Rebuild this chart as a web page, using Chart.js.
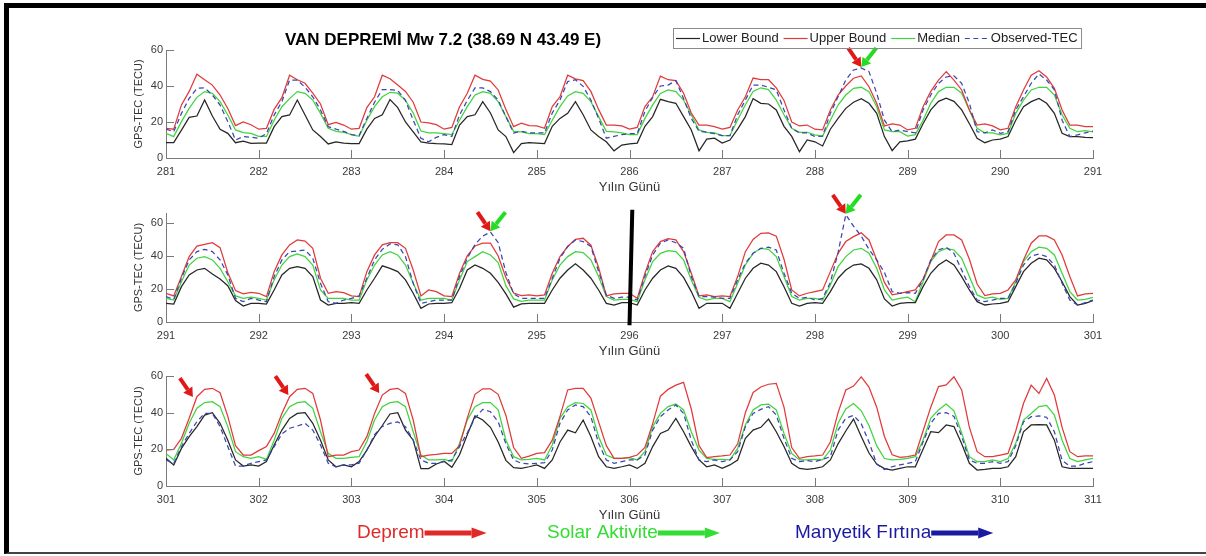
<!DOCTYPE html>
<html>
<head>
<meta charset="utf-8">
<script src="https://cdn.jsdelivr.net/npm/chart.js@4.4.1/dist/chart.umd.min.js"></script>
<style>
  html, body { margin: 0; padding: 0; background: #fff; }
  #page { position: relative; width: 1206px; height: 556px; overflow: hidden; }
  #frame { position: absolute; left: 4px; top: 3px; width: 1202px; height: 551px; box-sizing: border-box;
           border-top: 5px solid #000; border-left: 5px solid #000; border-bottom: 2px solid #444; }
  canvas { position: absolute; left: 0; }
</style>
</head>
<body>
<div id="page">
  <div id="frame"></div>
  <canvas id="tecA" width="1206" height="195" style="top:0px"></canvas>
  <canvas id="tecB" width="1206" height="169" style="top:190px"></canvas>
  <canvas id="tecC" width="1206" height="201" style="top:355px"></canvas>
</div>
<script>
// GPS-TEC around the Van earthquake, one sample every 2 hours (12 per day)
var startDays = [281, 291, 301];
var yMaxes = [60, 66, 60];

// days 281 - 291
var lowerA = [
  8.5, 8.5, 15.5, 22.6, 23.3, 32.2, 23.3, 16, 13.7, 8.5, 9.4, 8.1,
  8.3, 8.3, 17.4, 23, 23.9, 32.2, 23.9, 15.6, 11.9, 7.8, 9, 8.3,
  8, 8, 16, 22, 24, 32.5, 28, 20, 14.5, 9, 8.3, 8,
  7.8, 7.5, 18.3, 23, 24, 31.3, 25, 15.6, 11.9, 3, 8, 8.5,
  8.3, 8, 17.6, 22, 24.8, 31.3, 24, 15.6, 12, 9, 4, 7.2,
  7.8, 8.3, 17.6, 23, 32.6, 31.3, 30.4, 23, 15.6, 4, 10.5, 11,
  8.3, 10, 16, 23, 33, 30.4, 30, 26.7, 17.6, 12, 3.5, 10,
  9, 6.7, 16, 22, 27.6, 31, 33, 30.4, 24.8, 11.9, 4.1, 9,
  9.5, 10.5, 19, 26.7, 31.5, 33.3, 31.5, 26.7, 19, 10.9, 8.5, 10,
  10.5, 11.9, 21, 28.5, 31.3, 33.1, 30.4, 24.8, 13.7, 11.9, 11.9, 11.5,
  11.3
];
var upperA = [
  16.5, 16, 29.5, 37, 46.5, 43.5, 40.5, 35, 27.5, 18, 20, 18.5,
  16, 16.5, 27, 33.5, 46, 43.5, 41.5, 36, 30, 18.5, 19.8, 18.3,
  16, 16.5, 28, 34, 46, 44, 40.5, 37, 31, 20, 19.5, 18.5,
  16, 17, 28.5, 36, 46, 43.7, 42.7, 37.8, 27, 17.4, 19.4, 18,
  17.8, 16.5, 28.6, 34, 46, 44, 43, 37, 27, 18.3, 18.3, 17.8,
  16, 17, 28.6, 34, 45.5, 43.5, 43, 36, 25, 18.3, 18.3, 17.4,
  16, 17, 26.7, 34, 44.4, 43.5, 43.5, 39, 32, 20, 17.8, 18.3,
  16, 15.6, 26.7, 35, 40, 44.3, 45.6, 39.6, 30.4, 17.8, 18.9, 18.3,
  15.6, 16.5, 28.5, 37, 43.3, 48, 43.3, 37.8, 26.7, 18.3, 18.9, 17.8,
  15.6, 16.5, 28.5, 37.8, 46, 48.5, 45, 38.7, 26.7, 18.3, 18.3, 17.4,
  17.4
];
var medianA = [
  13.7, 11.9, 20.2, 27.6, 33.7, 36.9, 35.9, 31.3, 23.9, 15.6, 14.1, 13.7,
  12, 12, 21, 28.5, 33, 36.9, 35.9, 32.2, 24.8, 16.5, 14.8, 14.3,
  13, 12, 21, 28.5, 34, 36.5, 36, 32, 25, 15, 14, 14,
  13.5, 13, 21, 28.5, 35, 36.9, 35.9, 31.3, 23, 14.8, 14.5, 13.5,
  13.5, 13, 21, 28.5, 34.5, 36.9, 35.9, 31.3, 23, 14.8, 14.5, 14,
  13, 13, 22, 29.5, 35.9, 37.8, 36.9, 32.2, 23.9, 15.6, 14.2, 14,
  12.4, 12.4, 21.3, 29.6, 37, 39, 38, 32.2, 24, 16.5, 14.3, 14.3,
  12.8, 12.2, 21, 29.4, 35, 38.7, 39.3, 36.9, 28.5, 15.6, 14.6, 14.6,
  12.2, 13, 21, 30.4, 36.9, 39.3, 39.3, 36, 26.7, 16.5, 14, 14,
  12.8, 13.7, 24.8, 32.2, 37.8, 39.3, 39.3, 35, 24, 16.5, 14.6, 15.2,
  14.5
];
var observedA = [
  16, 14.6, 24.8, 33.1, 38.7, 39, 35, 29.4, 20.2, 10, 11.9, 11.5,
  11, 13.5, 23.9, 31.3, 43.3, 43.3, 39.3, 34, 26.7, 17.4, 16, 14.8,
  13, 12.5, 22, 31, 38, 38, 37.5, 32, 21, 11, 9, 11.5,
  13, 12, 23.9, 32, 38.9, 38.9, 36.9, 32.2, 23, 13.9, 14.8, 13.9,
  13.9, 13.9, 25, 32.2, 42.5, 43.5, 39.8, 32.2, 22, 11, 12, 13,
  13.5, 13.5, 26, 33.7, 40, 40.5, 43, 33, 22, 14.8, 14.3, 13.5,
  12.4, 12.4, 24, 32.2, 40.5, 40.5, 39.3, 37.8, 26.7, 16.5, 13.9, 13.9,
  11.9, 12.2, 24.8, 34, 43.3, 48.9, 50, 48, 36, 21, 14.6, 15.6,
  14.6, 14, 26.7, 35, 41.5, 45, 45.6, 41.5, 30.4, 14.6, 14, 15.6,
  13.7, 14.6, 26.7, 34, 41.5, 46.7, 43.3, 37.8, 21, 11.9, 12.8, 14,
  15
];

// days 291 - 301
var lowerB = [
  11.3, 10.9, 21.4, 28.5, 31.5, 32.5, 29, 26, 22, 13, 9.7, 11.3,
  11.3, 10.9, 19.4, 28.5, 32.5, 33.5, 32.5, 27.5, 13.3, 10.3, 11.3, 11.3,
  11.7, 11.3, 19.4, 26.5, 34, 32.5, 30.5, 25.5, 17.4, 8.3, 10.9, 11.3,
  11.3, 11.7, 20.4, 31.5, 34.5, 32.5, 29.5, 24, 17, 9, 11, 11.3,
  11.3, 11.3, 19.4, 26.5, 31.5, 35.2, 31.5, 26.5, 19.4, 11.3, 10.3, 11.7,
  11.7, 10.3, 19.4, 26.5, 31.5, 34, 32.5, 27, 18.4, 8.3, 11.3, 11.3,
  11.3, 8.3, 17.4, 26.5, 32.5, 35.6, 34.5, 30.5, 21.4, 11.3, 9.7, 11.3,
  11.7, 11.3, 18.4, 26.5, 31.5, 34.5, 35.2, 32.5, 25.5, 14, 9.7, 11.3,
  11.7, 11.7, 21.4, 29.5, 34.5, 37.6, 34.5, 27.5, 19.4, 12.3, 10.3, 10.9,
  11.3, 12.3, 21.4, 30.5, 35.6, 38.6, 37.6, 32.5, 24.4, 15.4, 10.3, 11.3,
  12.9
];
var upperB = [
  17.4, 15.8, 27.5, 39.6, 46, 47, 48, 45, 30, 19, 17, 18,
  17.4, 15.4, 30.5, 40.6, 46.7, 49.7, 49, 44.6, 26.5, 17.4, 18.4, 17.8,
  15.8, 15.4, 30.5, 40.6, 46.7, 48, 48, 44.6, 31.5, 15.8, 19.4, 18.4,
  15.8, 15.4, 29.5, 40, 46, 47.7, 47.7, 40, 27, 17.5, 16, 16.4,
  15.8, 16.4, 29.5, 39.6, 45.7, 50, 50.7, 46.5, 33, 15.8, 17, 17.4,
  17.4, 14.3, 29.5, 42.6, 48.7, 50.5, 49.7, 42.6, 29.5, 15.8, 16.4, 15.4,
  15.8, 15.4, 27.5, 42.6, 50, 53.7, 54, 52, 38, 19.4, 15.8, 17.4,
  18.4, 19.4, 30.5, 41.6, 48.7, 51.7, 54, 49.7, 37.6, 24, 16.5, 17.4,
  18.4, 19.4, 26, 37, 48.7, 52.7, 52.7, 49.7, 38, 23, 16, 17,
  17.4, 19.4, 25.5, 37.6, 47.7, 52.1, 52.1, 49.7, 40.6, 27.5, 15.8, 17,
  17.4
];
var medianB = [
  14.3, 13.3, 24.4, 34.5, 38.6, 39.6, 37.6, 32.5, 24.4, 15.8, 14.3, 15,
  14.3, 13.3, 25.5, 34.5, 39.6, 41.2, 39.6, 34.5, 19.4, 14.3, 14.3, 14.3,
  13.3, 13.3, 25.5, 34.5, 40.6, 42.6, 40.6, 34.5, 23.4, 13.3, 14.3, 14.3,
  14.3, 13.3, 25.5, 36.6, 39.6, 42.6, 40.6, 36, 22, 14, 12.5, 13.3,
  13.3, 13.3, 25.5, 34.5, 39.6, 42.6, 42, 37.6, 27.5, 15.4, 13.3, 13.7,
  13.7, 12.3, 25.5, 36.6, 41.6, 43.2, 42.6, 37.6, 25.5, 15, 13.3, 14.3,
  14.3, 12.3, 23.4, 34.5, 41.6, 44.6, 44, 39.6, 27.5, 15.4, 13.3, 14.3,
  14.3, 13.3, 22.4, 33.5, 39.6, 43.6, 44.6, 41.6, 32.5, 19.4, 13.3, 14.3,
  15, 12.3, 24.4, 36.6, 42.6, 44.6, 43.6, 38.6, 27.5, 16.4, 14.3, 15,
  13.7, 14.3, 24.4, 36.6, 42.6, 45.3, 44.6, 40.6, 29.5, 18.4, 13.3, 13.7,
  15
];
var observedB = [
  15.4, 13.7, 26.5, 37.6, 42.6, 44, 42.6, 37.6, 28.5, 14.3, 12.3, 14.3,
  13.3, 12.3, 27.5, 37.6, 42.6, 43, 43.6, 38.6, 23.4, 12.3, 11.3, 13.3,
  14.3, 15.8, 26.5, 37.6, 44, 47.3, 46.7, 39.6, 23.4, 11.3, 12.3, 13.3,
  13.3, 13.3, 27.5, 38.6, 47, 52, 54.5, 48, 30, 17, 14.3, 14.3,
  14.3, 14.3, 26.5, 38.6, 45.7, 49.7, 48.7, 45.7, 30.5, 16.4, 14.3, 15,
  15, 13.3, 27.5, 40.6, 47.7, 49.7, 48, 44.6, 27.5, 15.4, 15.4, 15,
  14.3, 14.3, 25.5, 35.6, 41.6, 44.6, 45.3, 43.6, 29.5, 17.4, 14.3, 15,
  13.3, 14.3, 24, 42, 65, 58, 52, 44, 37.6, 30, 18.4, 17.4,
  17.8, 17.4, 25.5, 37.6, 43.6, 45.3, 41.6, 31.5, 21.4, 13.3, 12.3, 13.3,
  14.3, 14.3, 23.4, 34.5, 40, 41.2, 39.6, 34.5, 23.4, 13.3, 10.3, 11.7,
  13.3
];

// days 301 - 311
var lowerC = [
  15.1, 11.5, 20.5, 26.9, 32.4, 38.7, 40, 34.2, 25, 14.2, 10.9, 11.5,
  10.9, 13.3, 22.4, 30.5, 36.9, 39.6, 40, 34.2, 25, 14.2, 10.5, 11.5,
  10.5, 13.3, 19.6, 27, 33, 39.3, 40, 30.5, 25, 9.5, 9.5, 12,
  13.5, 10.2, 17, 28, 38.2, 36, 32, 24, 14, 10, 9.6, 10.5,
  11.5, 9.6, 14.2, 24, 30.5, 29, 36, 27, 16, 10.5, 9.6, 10.5,
  11.5, 9.6, 12.4, 21.5, 28.7, 30.5, 36.9, 29.6, 21.5, 14.2, 10.5, 11.5,
  9.6, 11.5, 14.2, 26, 30.5, 32, 36.5, 29.6, 21.5, 12.4, 9.6, 9.1,
  9.6, 10.5, 14.2, 23, 30, 36.5, 27, 18, 12, 9.5, 8.7, 9.6,
  10.5, 10.5, 20, 29.6, 29.1, 33.3, 32.4, 23, 12.4, 8.7, 9.1, 9.6,
  9.6, 10.5, 16, 29.6, 33.3, 33.5, 33.3, 25, 10.5, 9.6, 9.6, 9.6,
  9.6
];
var upperC = [
  19.6, 20, 26, 37, 48.7, 52.7, 53.3, 50.9, 38, 22, 16.9, 16.9,
  19.3, 21.5, 28.7, 39.6, 48.7, 52.7, 53.3, 50.5, 36, 16, 16.9, 16.9,
  18.7, 19.6, 26.9, 39.6, 49.6, 52.7, 53.3, 50.5, 36, 16, 16.9, 17.3,
  17.8, 17.8, 22, 37, 50, 53, 53, 50, 38.5, 21, 15.1, 16.3,
  17.8, 18.2, 25, 38, 52.4, 53.3, 53.3, 48, 35, 22, 15.1, 15.1,
  15.6, 16.9, 21, 34, 49, 52.7, 55, 56.5, 42, 22, 15.5, 16,
  16.4, 16.9, 23, 40, 51, 54, 55.5, 56, 43, 21, 15.1, 16,
  16.4, 16.9, 24, 40, 52.4, 54.5, 59.5, 54, 43, 27, 17, 15.6,
  16, 16.9, 30, 43, 54.2, 55.1, 59.6, 52.4, 32, 18.7, 16, 16,
  16.9, 17.8, 30, 45, 55, 50.5, 58.7, 49.6, 32, 18.7, 16, 16.4,
  16.4
];
var medianC = [
  17.8, 14.2, 23.3, 34.2, 42.4, 45.5, 46, 43.3, 32.4, 18.7, 16, 15.1,
  16, 14.5, 25, 36.9, 43.3, 45.5, 46, 42.4, 29.6, 17.8, 15.1, 15.1,
  15.6, 16, 24.2, 36, 43.3, 45.5, 46, 43.3, 29.6, 16.9, 14.2, 14.2,
  14.5, 13.3, 23.3, 36, 43.3, 45.5, 45.5, 41.5, 25, 16, 14.2, 14.5,
  15.1, 14.2, 22.4, 36.9, 43.3, 45.5, 45, 41.5, 26.9, 16.9, 15.1, 15.1,
  15.5, 14.2, 18.7, 32.4, 39.6, 43.3, 44.7, 41.5, 29.6, 19.6, 15.1, 14.5,
  14.5, 14.2, 20.5, 33.3, 41.5, 44.2, 44.7, 41.5, 28.7, 17.8, 14.2, 14.2,
  14.5, 14.2, 19.6, 34.2, 42, 45, 41, 33, 22, 15, 14.2, 14.5,
  15.1, 16, 25, 36.9, 41.5, 44.7, 41, 29, 16, 13.3, 13.3, 14.2,
  13.3, 15, 23.3, 36, 39.6, 43.3, 44, 38.7, 25, 15, 13.3, 14.2,
  15.1
];
var observedC = [
  14.2, 12.4, 21.5, 28.7, 35.1, 39.6, 39.6, 32.4, 21.5, 10.9, 10.9, 12.4,
  13.3, 14.2, 21.5, 28.4, 31.5, 32.7, 34.2, 30.5, 22.4, 12.4, 10.5, 11.5,
  11.5, 12.4, 19.6, 28, 32.5, 34.2, 35, 32.4, 25, 14.2, 12.4, 12.4,
  13.3, 14.2, 21.5, 29, 37, 41.8, 40.5, 35, 23, 14.2, 12.4, 12,
  12.4, 12.7, 19.6, 34.2, 41.5, 44.2, 43.3, 37.8, 23.3, 14.2, 12.4, 13.3,
  14.2, 14.2, 16.9, 30.5, 37.8, 41.5, 44.2, 39.6, 25, 14.2, 13.3, 14.2,
  13.3, 14.2, 18.7, 32.4, 39.6, 41.8, 43.3, 38.7, 26, 15.1, 13.3, 13.8,
  13.3, 14.5, 16, 30.5, 37, 38.5, 34, 24, 12, 9, 10.5, 11.5,
  12.4, 13.3, 24, 34.2, 39.6, 40, 38, 27, 14.2, 12.4, 12.4, 13.3,
  12.4, 13.3, 22, 35, 37.8, 38.2, 37.5, 29.6, 14, 10.9, 10.9, 12.4,
  13.3
];

var seriesNames = ['Lower Bound', 'Upper Bound', 'Median', 'Observed-TEC'];
var seriesColors = ['#262626', '#e03a3a', '#3fd43f', '#3a46b0'];
var observedDash = [5, 3.5];

// arrows: red = earthquake, green = solar activity (tip at day / TECU)
var quakeArrows = [
  [{day: 288.5, tec: 50.5}],
  [{day: 294.5, tec: 55}, {day: 298.333, tec: 65.5}],
  [{day: 301.29, tec: 48.5}, {day: 302.32, tec: 49.6}, {day: 303.3, tec: 50.7}]
];
var solarArrows = [
  [{day: 288.5, tec: 50.5}],
  [{day: 294.5, tec: 55}, {day: 298.333, tec: 65.5}],
  []
];
var dividerDay = 296;

var bottomNotes = [
  {text: 'Deprem', color: '#e02a2a', x: 357},
  {text: 'Solar Aktivite', color: '#33dd33', x: 547},
  {text: 'Manyetik Fırtına', color: '#1a1aa0', x: 795}
];

Chart.defaults.font.family = '"Liberation Sans", Arial, Helvetica, sans-serif';
Chart.defaults.color = '#333';

function toPoints(values, start) {
  return values.map(function(v, i) {
    return {x: start + i * 2 / 24, y: v};
  });
}

function drawArrow(ctx, x0, y0, x1, y1, color, width, headLen, headHalf) {
  var ang = Math.atan2(y1 - y0, x1 - x0);
  var bx = x1 - Math.cos(ang) * headLen, by = y1 - Math.sin(ang) * headLen;
  ctx.save();
  ctx.strokeStyle = color;
  ctx.fillStyle = color;
  ctx.lineWidth = width;
  ctx.lineCap = 'butt';
  ctx.beginPath();
  ctx.moveTo(x0, y0);
  ctx.lineTo(bx, by);
  ctx.stroke();
  ctx.beginPath();
  ctx.moveTo(x1, y1);
  ctx.lineTo(bx + Math.sin(ang) * headHalf, by - Math.cos(ang) * headHalf);
  ctx.lineTo(bx - Math.sin(ang) * headHalf, by + Math.cos(ang) * headHalf);
  ctx.closePath();
  ctx.fill();
  ctx.restore();
}

// ticks point into the plot, like the original figure
var inwardTicks = {
  id: 'inwardTicks',
  afterDraw: function(chart) {
    var ctx = chart.ctx, xs = chart.scales.x, ys = chart.scales.y;
    ctx.save();
    ctx.strokeStyle = '#7a7a7a';
    ctx.lineWidth = 1;
    ctx.beginPath();
    xs.ticks.forEach(function(t) {
      var px = Math.round(xs.getPixelForValue(t.value)) + 0.5;
      ctx.moveTo(px, ys.bottom);
      ctx.lineTo(px, ys.bottom - 8);
    });
    ys.ticks.forEach(function(t) {
      var py = Math.round(ys.getPixelForValue(t.value)) + 0.5;
      ctx.moveTo(xs.left, py);
      ctx.lineTo(xs.left + 8, py);
    });
    ctx.stroke();
    ctx.restore();
  }
};

var eventMarks = {
  id: 'eventMarks',
  afterDraw: function(chart) {
    var idx = chart.options.plugins.eventMarks.panel;
    var ctx = chart.ctx, xs = chart.scales.x, ys = chart.scales.y;
    quakeArrows[idx].forEach(function(a) {
      var x = xs.getPixelForValue(a.day), y = ys.getPixelForValue(a.tec);
      drawArrow(ctx, x - 13, y - 19, x, y, '#e01818', 4, 9, 5.5);
    });
    solarArrows[idx].forEach(function(a) {
      var x = xs.getPixelForValue(a.day), y = ys.getPixelForValue(a.tec);
      drawArrow(ctx, x + 15, y - 19, x, y, '#22dd22', 4, 9, 5.5);
    });
    if (dividerDay >= xs.min && dividerDay <= xs.max) {
      ctx.save();
      ctx.strokeStyle = '#000';
      ctx.lineWidth = 4;
      ctx.beginPath();
      ctx.moveTo(xs.getPixelForValue(dividerDay + 0.03), ys.getPixelForValue(68));
      ctx.lineTo(xs.getPixelForValue(dividerDay), ys.getPixelForValue(-2));
      ctx.stroke();
      ctx.restore();
    }
  }
};

// title and legend box above the first panel
var header = {
  id: 'header',
  afterDraw: function(chart) {
    var ctx = chart.ctx;
    ctx.save();
    ctx.font = 'bold 17px "Liberation Sans", Arial, sans-serif';
    ctx.fillStyle = '#000';
    ctx.textAlign = 'center';
    ctx.textBaseline = 'alphabetic';
    ctx.fillText('VAN DEPREMİ Mw 7.2 (38.69 N 43.49 E)', 443, 45);

    ctx.font = '13px "Liberation Sans", Arial, sans-serif';
    ctx.textAlign = 'left';
    ctx.textBaseline = 'middle';
    var x = 676, y = 38.5;
    seriesNames.forEach(function(name, i) {
      ctx.strokeStyle = seriesColors[i];
      ctx.lineWidth = 1.2;
      ctx.setLineDash(i === 3 ? observedDash : []);
      ctx.beginPath();
      ctx.moveTo(x, y);
      ctx.lineTo(x + 24, y);
      ctx.stroke();
      ctx.setLineDash([]);
      ctx.fillStyle = '#222';
      ctx.fillText(name, x + 26, y);
      x += 26 + ctx.measureText(name).width + 5;
    });
    ctx.strokeStyle = '#8a8a8a';
    ctx.lineWidth = 1;
    ctx.strokeRect(673.5, 28.5, x - 1 - 673.5, 20);
    ctx.restore();
  }
};

// coloured captions with arrows under the last panel
var footer = {
  id: 'footer',
  afterDraw: function(chart) {
    var ctx = chart.ctx;
    var y = 533 - chart.canvas.offsetTop;
    ctx.save();
    ctx.font = '19px "Liberation Sans", Arial, sans-serif';
    ctx.textAlign = 'left';
    ctx.textBaseline = 'middle';
    bottomNotes.forEach(function(n) {
      ctx.fillStyle = n.color;
      ctx.fillText(n.text, n.x, y);
      var end = n.x + ctx.measureText(n.text).width;
      drawArrow(ctx, end, y, end + 62, y, n.color, 5, 15, 5.5);
    });
    ctx.restore();
  }
};

function makePanel(canvasId, idx, lower, upper, median, observed, pad, extra) {
  var start = startDays[idx];
  var sets = [lower, upper, median, observed].map(function(vals, i) {
    return {
      label: seriesNames[i],
      data: toPoints(vals, start),
      borderColor: seriesColors[i],
      borderWidth: 1.25,
      borderDash: i === 3 ? observedDash : [],
      pointRadius: 0,
      tension: 0,
      fill: false,
      order: i === 3 ? 0 : 1
    };
  });
  return new Chart(document.getElementById(canvasId), {
    type: 'line',
    data: {datasets: sets},
    options: {
      responsive: false,
      animation: false,
      events: [],
      layout: {padding: {left: 120, right: 113, top: pad.top, bottom: pad.bottom}},
      plugins: {
        legend: {display: false},
        tooltip: {enabled: false},
        eventMarks: {panel: idx}
      },
      scales: {
        x: {
          type: 'linear',
          min: start,
          max: start + 10,
          grid: {display: false, drawTicks: false},
          border: {color: '#7a7a7a', width: 1},
          ticks: {stepSize: 1, font: {size: 11}, color: '#3a3a3a', padding: 7, maxRotation: 0},
          title: {display: true, text: 'Yılın Günü', font: {size: 13}, color: '#333', padding: {top: 0, bottom: 0}},
          afterFit: function(scale) { scale.height = 37; }
        },
        y: {
          min: 0,
          max: yMaxes[idx],
          grid: {display: false, drawTicks: false},
          border: {color: '#7a7a7a', width: 1},
          ticks: {stepSize: 20, includeBounds: false, font: {size: 11}, color: '#3a3a3a', padding: 3},
          title: {display: true, text: 'GPS-TEC (TECU)', font: {size: 11}, color: '#333', padding: {top: 12, bottom: 0}},
          afterFit: function(scale) { scale.width = 46; }
        }
      }
    },
    plugins: [inwardTicks, eventMarks].concat(extra)
  });
}

makePanel('tecA', 0, lowerA, upperA, medianA, observedA, {top: 50, bottom: 0}, [header]);
makePanel('tecB', 1, lowerB, upperB, medianB, observedB, {top: 23, bottom: 0}, []);
makePanel('tecC', 2, lowerC, upperC, medianC, observedC, {top: 21, bottom: 33}, [footer]);
</script>
</body>
</html>
